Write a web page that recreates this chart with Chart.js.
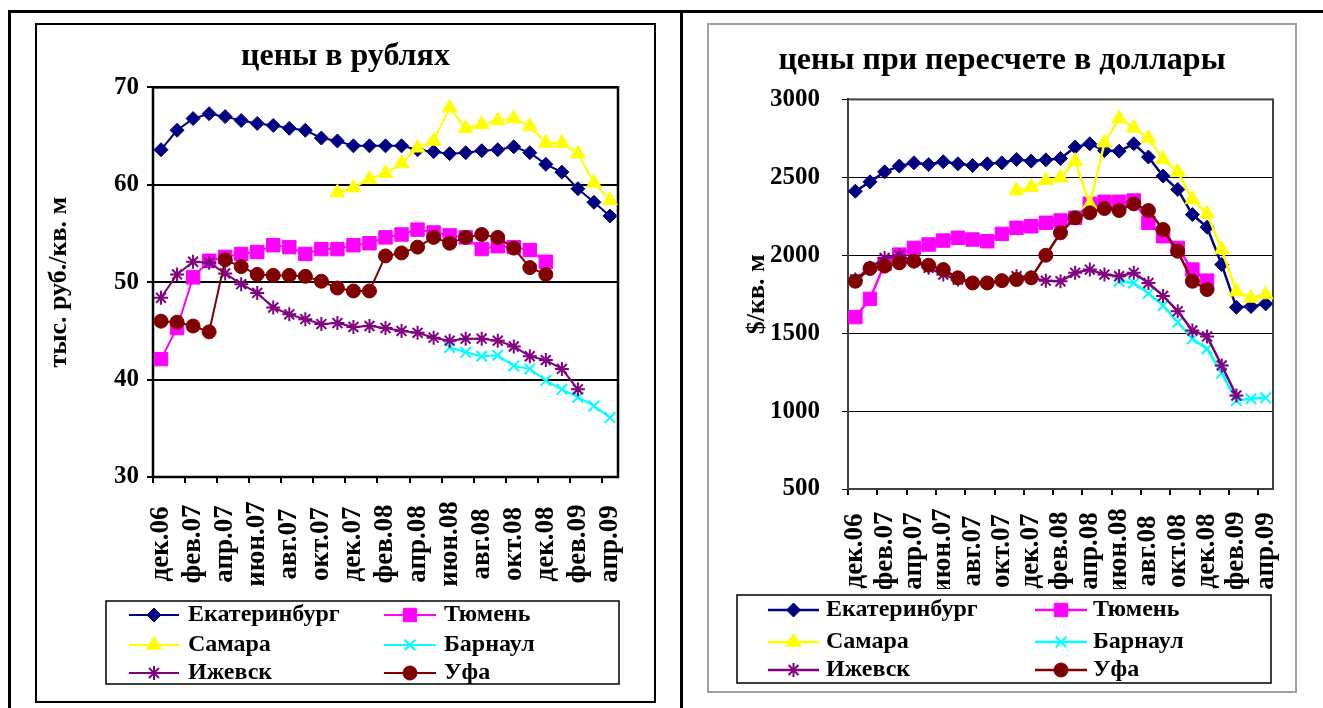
<!DOCTYPE html>
<html>
<head>
<meta charset="utf-8">
<script src="https://cdn.jsdelivr.net/npm/chart.js@4"></script>
<style>
  body { margin: 0; width: 1323px; height: 708px; position: relative; background: #fff; overflow: hidden; }
  .rule { position: absolute; background: #000; }
  .frame { position: absolute; box-sizing: border-box; }
  canvas { position: absolute; }
</style>
</head>
<body>
<div class="rule" style="left:8px;top:10px;width:1315px;height:3px"></div>
<div class="rule" style="left:8px;top:10px;width:3px;height:698px"></div>
<div class="rule" style="left:680px;top:10px;width:3px;height:698px"></div>
<div class="frame" style="left:35px;top:23px;width:621px;height:680px;border:2px solid #000"></div>
<div class="frame" style="left:707px;top:23px;width:590px;height:670px;border:2px solid #a0a0a0"></div>
<canvas id="rub" width="621" height="680" style="left:35px;top:23px"></canvas>
<canvas id="usd" width="590" height="670" style="left:707px;top:23px"></canvas>
<script>
const months = ['дек.06', 'янв.07', 'фев.07', 'мар.07', 'апр.07', 'май.07', 'июн.07', 'июл.07', 'авг.07', 'сен.07',
  'окт.07', 'ноя.07', 'дек.07', 'янв.08', 'фев.08', 'мар.08', 'апр.08', 'май.08', 'июн.08', 'июл.08',
  'авг.08', 'сен.08', 'окт.08', 'ноя.08', 'дек.08', 'янв.09', 'фев.09', 'мар.09', 'апр.09'];
const cities = ['Екатеринбург', 'Тюмень', 'Самара', 'Барнаул', 'Ижевск', 'Уфа'];

// цены в рублях, тыс. руб./кв. м
const rubEkat = [63.6, 65.6, 66.8, 67.3, 67.0, 66.6, 66.3, 66.1, 65.8, 65.6, 64.8, 64.5, 64.0, 64.0, 64.0,
  64.0, 63.6, 63.4, 63.2, 63.3, 63.5, 63.6, 63.9, 63.3, 62.1, 61.3, 59.6, 58.2, 56.8];
const rubTyumen = [42.1, 45.3, 50.5, 52.2, 52.6, 52.9, 53.1, 53.8, 53.6, 52.9, 53.4, 53.4, 53.8, 54.0, 54.6,
  54.9, 55.4, 55.1, 54.8, 54.6, 53.4, 53.7, 53.6, 53.3, 52.1, null, null, null, null];
const rubSamara = [null, null, null, null, null, null, null, null, null, null, null, 59.2, 59.7, 60.6, 61.2,
  62.2, 63.8, 64.5, 67.9, 65.8, 66.2, 66.6, 66.8, 66.0, 64.3, 64.3, 63.2, 60.2, 58.4];
const rubBarnaul = [null, null, null, null, null, null, null, null, null, null, null, null, null, null, null,
  null, null, null, 43.3, 42.8, 42.4, 42.5, 41.4, 41.1, 39.9, 39.0, 38.2, 37.3, 36.1];
const rubIzhevsk = [48.4, 50.8, 52.1, 52.0, 50.9, 49.8, 48.9, 47.4, 46.7, 46.2, 45.7, 45.8, 45.4, 45.5, 45.3,
  45.0, 44.8, 44.3, 44.0, 44.2, 44.2, 44.0, 43.4, 42.4, 42.0, 41.1, 39.0, null, null];
const rubUfa = [46.0, 45.9, 45.5, 44.9, 52.3, 51.6, 50.8, 50.7, 50.7, 50.6, 50.1, 49.4, 49.1, 49.1, 52.7,
  53.0, 53.6, 54.6, 54.0, 54.6, 54.9, 54.6, 53.5, 51.5, 50.8, null, null, null, null];

// цены при пересчете в доллары, $/кв. м
const usdEkat = [2411, 2471, 2535, 2572, 2593, 2582, 2600, 2587, 2576, 2587, 2593, 2615, 2604, 2612, 2621,
  2694, 2715, 2672, 2668, 2715, 2630, 2508, 2422, 2261, 2180, 1940, 1666, 1671, 1688];
const usdTyumen = [1603, 1720, 1945, 2004, 2047, 2069, 2094, 2112, 2101, 2090, 2137, 2176, 2186, 2208, 2223,
  2240, 2330, 2343, 2343, 2351, 2208, 2122, 2047, 1908, 1837, null, null, null, null];
const usdSamara = [null, null, null, null, null, null, null, null, null, null, null, 2415, 2437, 2480, 2497,
  2604, 2326, 2722, 2878, 2818, 2750, 2615, 2535, 2358, 2266, 2037, 1766, 1726, 1748];
const usdBarnaul = [null, null, null, null, null, null, null, null, null, null, null, null, null, null, null,
  null, null, null, 1833, 1822, 1756, 1677, 1570, 1464, 1400, 1244, 1068, 1079, 1085];
const usdIzhevsk = [1845, 1919, 1983, 2000, 1962, 1919, 1876, 1844, 1822, 1822, 1837, 1865, 1855, 1837, 1833,
  1887, 1908, 1876, 1865, 1887, 1822, 1739, 1641, 1517, 1479, 1293, 1100, null, null];
const usdUfa = [1833, 1915, 1930, 1951, 1962, 1936, 1908, 1855, 1822, 1822, 1837, 1844, 1855, 2000, 2144,
  2240, 2272, 2300, 2287, 2330, 2287, 2165, 2026, 1833, 1780, null, null, null, null];

const colors = ['#000080', '#ff00ff', '#ffff00', '#00ffff', '#800080', '#800000'];
const markers = ['rectRot', 'rect', 'triangle', 'crossRot', 'star', 'circle'];
const markerSizes = [7, 9.5, 8.5, 7.5, 7, 7];
const serif = '"Liberation Serif", "Times New Roman", serif';

// plot area border (Excel style)
const plotFrame = {
  id: 'plotFrame',
  beforeDatasetsDraw(chart, args, o) {
    const a = chart.chartArea, ctx = chart.ctx;
    ctx.save();
    ctx.strokeStyle = o.color;
    ctx.lineWidth = o.width;
    ctx.strokeRect(a.left, a.top, a.right - a.left, a.bottom - a.top);
    ctx.restore();
  }
};

// boxed two-column legend
const boxLegend = {
  id: 'boxLegend',
  afterDraw(chart, args, o) {
    const ctx = chart.ctx;
    ctx.save();
    ctx.strokeStyle = '#000';
    ctx.lineWidth = 1.5;
    ctx.strokeRect(o.x, o.y, o.w, o.h);
    ctx.font = o.font;
    ctx.textBaseline = 'middle';
    chart.data.datasets.forEach((ds, k) => {
      const col = o.cols[k % 2], y = o.rows[Math.floor(k / 2)];
      ctx.strokeStyle = ds.borderColor;
      ctx.lineWidth = ds.borderWidth;
      ctx.beginPath();
      ctx.moveTo(col[0], y);
      ctx.lineTo(col[1], y);
      ctx.stroke();
      ctx.fillStyle = ds.pointBackgroundColor;
      ctx.lineWidth = ds.pointBorderWidth;
      Chart.helpers.drawPoint(ctx, {
        pointStyle: ds.pointStyle, radius: ds.pointRadius, rotation: 0, borderWidth: ds.pointBorderWidth
      }, (col[0] + col[1]) / 2, y);
      ctx.fillStyle = '#000';
      ctx.fillText(ds.label, col[2], y);
    });
    ctx.restore();
  }
};

function series(values, k, lw) {
  const cross = markers[k] === 'star' || markers[k] === 'crossRot';
  return {
    label: cities[k],
    data: values,
    borderColor: colors[k],
    backgroundColor: colors[k],
    borderWidth: lw,
    pointStyle: markers[k],
    pointRadius: markerSizes[k],
    pointBackgroundColor: colors[k],
    pointBorderColor: colors[k],
    pointBorderWidth: cross ? 2 : 1,
    tension: 0,
    spanGaps: false,
    order: cities.length - k
  };
}

function makeChart(id, c) {
  return new Chart(document.getElementById(id), {
    type: 'line',
    data: { labels: months, datasets: c.values.map((v, k) => series(v, k, c.lineWidth)) },
    options: {
      responsive: false,
      animation: false,
      devicePixelRatio: 1,
      layout: { padding: { left: 0, top: 0, right: 0, bottom: c.padBottom } },
      plugins: {
        legend: { display: false },
        tooltip: { enabled: false },
        title: {
          display: true, text: c.title, color: '#000', padding: c.titlePad,
          font: { family: serif, size: 32, weight: 'bold', lineHeight: 1.2 }
        },
        plotFrame: c.frame,
        boxLegend: c.legend
      },
      scales: {
        x: {
          offset: true,
          grid: {
            offset: true, drawOnChartArea: false, tickLength: 6, lineWidth: 2,
            color: ctx => ctx.index % 2 === 0 ? '#000' : 'rgba(0,0,0,0)'
          },
          border: { display: true, color: '#000', width: 2 },
          ticks: {
            autoSkip: false, maxRotation: 90, minRotation: 90, padding: c.xPad, color: '#000',
            font: { family: serif, size: 27, weight: 'bold' },
            callback(value, index) { return index % 2 === 0 ? this.getLabelForValue(value) : ''; }
          },
          afterFit(scale) {
            scale.height = c.xHeight;
            scale.paddingLeft = 0;
            scale.paddingRight = c.padRight;
            scale._getXAxisLabelAlignment = () => 'center';
          }
        },
        y: {
          min: c.yMin, max: c.yMax,
          grid: { color: '#000', lineWidth: c.gridWidth, tickLength: 6 },
          border: { color: '#000', width: 2 },
          ticks: {
            stepSize: c.yStep, padding: c.yPad, color: '#000',
            font: { family: serif, size: 25, weight: 'bold' },
            callback: v => String(v)
          },
          title: {
            display: true, text: c.yTitle, color: '#000', padding: { top: c.yTitlePad, bottom: 0 },
            font: { family: serif, size: 26, weight: 'bold', lineHeight: 1.2 }
          },
          afterFit(scale) { scale.width = c.yWidth; }
        }
      }
    },
    plugins: [plotFrame, boxLegend]
  });
}

makeChart('rub', {
  title: 'цены в рублях',
  yTitle: 'тыс. руб./кв. м',
  values: [rubEkat, rubTyumen, rubSamara, rubBarnaul, rubIzhevsk, rubUfa],
  yMin: 30, yMax: 70, yStep: 10,
  lineWidth: 2, gridWidth: 2,
  padRight: 38, padBottom: 106, xHeight: 120, yWidth: 118,
  titlePad: { top: 15, bottom: 11 }, yTitlePad: 9, yPad: 8, xPad: 61,
  frame: { color: '#000', width: 2.5 },
  legend: {
    x: 71, y: 578, w: 513, h: 83, rows: [592, 622, 650],
    cols: [[94, 144, 153], [349, 401, 409]],
    font: 'bold 24px ' + serif
  }
});

makeChart('usd', {
  title: 'цены при пересчете в доллары',
  yTitle: '$/кв. м',
  values: [usdEkat, usdTyumen, usdSamara, usdBarnaul, usdIzhevsk, usdUfa],
  yMin: 500, yMax: 3000, yStep: 500,
  lineWidth: 2.5, gridWidth: 1,
  padRight: 24, padBottom: 104, xHeight: 100, yWidth: 141,
  titlePad: { top: 19, bottom: 19 }, yTitlePad: 35, yPad: 22, xPad: 56,
  frame: { color: '#404040', width: 2 },
  legend: {
    x: 30, y: 572, w: 534, h: 88, rows: [587, 619, 647],
    cols: [[61, 112, 119], [328, 380, 386]],
    font: 'bold 24px ' + serif
  }
});
</script>
</body>
</html>
